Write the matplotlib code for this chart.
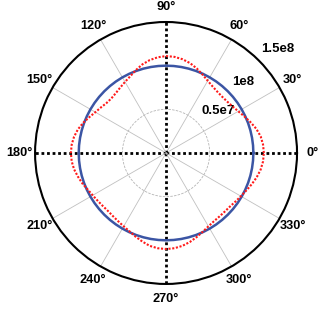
import numpy as np
import matplotlib.pyplot as plt

# radial scale (units of 1e8)
SCALE = 1e8
r_max = 1.5
r_grid = [0.5, 1.0]
r_label_text = ["0.5e7", "1e8", "1.5e8"]

theta_ticks = list(range(0, 360, 30))
theta_labels = [f"{a}°" for a in theta_ticks]

# blue: uniform circle
blue_deg = np.arange(0, 361, 5)
blue_r = [1.0] * len(blue_deg)

# red dotted: every 5 degrees
red_deg = np.arange(0, 361, 5)
red_r = [1.12, 1.115, 1.10, 1.07, 1.03, 0.99, 0.955, 0.93, 0.915, 0.91,
         0.915, 0.93, 0.955, 0.99, 1.03, 1.065, 1.09, 1.105, 1.11, 1.10,
         1.08, 1.05, 1.01, 0.97, 0.94, 0.915, 0.895, 0.885, 0.89, 0.91,
         0.935, 0.97, 1.01, 1.045, 1.07, 1.085, 1.09, 1.085, 1.07, 1.045,
         1.02, 0.99, 0.97, 0.955, 0.945, 0.94, 0.945, 0.955, 0.97, 0.99,
         1.02, 1.05, 1.08, 1.095, 1.10, 1.095, 1.08, 1.055, 1.025, 0.995,
         0.97, 0.955, 0.95, 0.95, 0.955, 0.97, 0.99, 1.015, 1.045, 1.075,
         1.10, 1.115, 1.12]

plt.rcParams['font.family'] = ['Liberation Sans', 'DejaVu Sans']

fig = plt.figure(figsize=(3.24, 3.10), dpi=100)
ax = fig.add_axes([0.108, 0.084, 0.809, 0.845], projection="polar")

ax.plot(np.deg2rad(blue_deg), np.array(blue_r) * SCALE, color="#3b55a4", lw=1.8, zorder=3)
ax.plot(np.deg2rad(red_deg), np.array(red_r) * SCALE, color="#ff1a1a", lw=1.5,
        linestyle=(0, (1, 0.8)), zorder=4)

ax.set_ylim(0, r_max * SCALE)
ax.set_rgrids([v * SCALE for v in r_grid], labels=["", ""])
ax.yaxis.grid(True, color="#b5b5b5", linestyle=(0, (3, 1.5)), lw=0.6)

ax.set_thetagrids(theta_ticks, theta_labels, fontsize=9.2, fontweight="bold")
ax.tick_params(axis="x", pad=0.5)
for i, gl in enumerate(ax.xaxis.get_gridlines()):
    if theta_ticks[i] % 90 == 0:
        gl.set_color("black")
        gl.set_linestyle((0, (1, 1)))
        gl.set_linewidth(2.0)
    else:
        gl.set_color("#c0c0c0")
        gl.set_linestyle("-")
        gl.set_linewidth(0.6)

ax.spines["polar"].set_color("black")
ax.spines["polar"].set_linewidth(1.5)

# radial labels, offset outward from their circles
for txt, ang, rr in zip(r_label_text, [39, 42.7, 43], [0.767, 1.20, 1.75]):
    ax.text(np.deg2rad(ang), rr * SCALE, txt, ha="center", va="center",
            fontsize=9.5, fontweight="bold", clip_on=False)

fig.savefig("out.png", dpi=100)
